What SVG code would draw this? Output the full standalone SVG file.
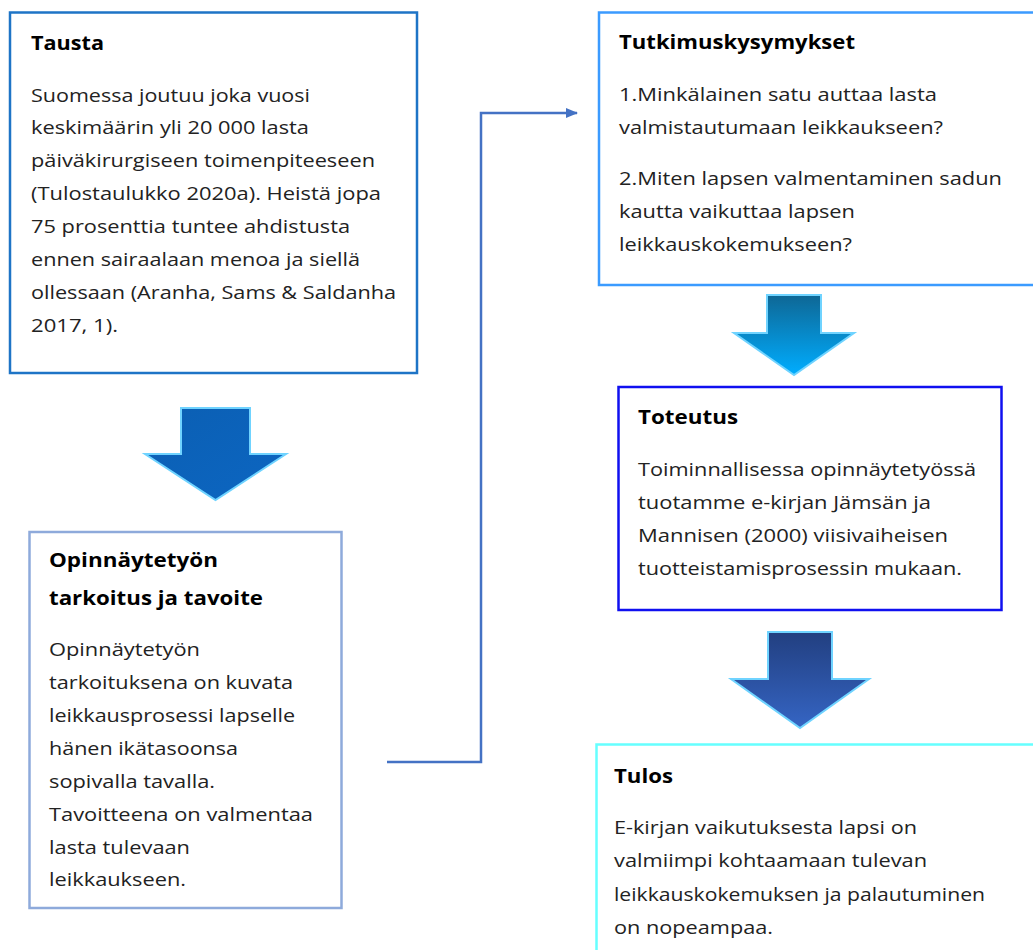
<svg xmlns="http://www.w3.org/2000/svg" width="1033" height="950" viewBox="0 0 1033 950">
<defs>
<style>
text{font-family:"Open Sans","Noto Sans","Liberation Sans",sans-serif;font-size:19px;fill:#222;}
.t{font-weight:bold;fill:#000;font-size:19.5px;}
.box{fill:#fff;stroke-width:2.5;}
.arr{stroke:#6fd3ff;stroke-width:2;stroke-linejoin:miter;}
</style>
<linearGradient id="g1" x1="0" y1="0" x2="1" y2="1">
<stop offset="0" stop-color="#0b5fb3"/><stop offset="1" stop-color="#0c66c2"/>
</linearGradient>
<linearGradient id="g2" x1="0" y1="0" x2="0" y2="1">
<stop offset="0" stop-color="#0e6795"/><stop offset="1" stop-color="#00adff"/>
</linearGradient>
<linearGradient id="g3" x1="0" y1="0" x2="0" y2="1">
<stop offset="0" stop-color="#223f80"/><stop offset="1" stop-color="#3565c4"/>
</linearGradient>
<marker id="ah" markerWidth="12" markerHeight="10" refX="11" refY="5" orient="auto" markerUnits="userSpaceOnUse">
<path d="M0,0 L12,5 L0,10 z" fill="#4472c4"/>
</marker>
</defs>
<rect width="1033" height="950" fill="#fff"/>
<g id="connectors">
<polyline points="387,762 481,762 481,113 577,113" fill="none" stroke="#4472c4" stroke-width="2.5" marker-end="url(#ah)"/>
<polygon class="arr" fill="url(#g1)" points="181,408 250,408 250,454 286,454 215.5,500 145,454 181,454"/>
<polygon class="arr" fill="url(#g2)" points="767,295 821,295 821,333 854,333 794,375 734,333 767,333"/>
<polygon class="arr" fill="url(#g3)" points="768,632 832,632 832,679 869,679 800,728 731,679 768,679"/>
</g>
<g id="tausta">
<rect class="box" x="10" y="12.5" width="407" height="360.5" stroke="#1e74c6"/>
<text class="t" x="31" y="50" textLength="73" lengthAdjust="spacingAndGlyphs">Tausta</text>
<text x="31" y="102" textLength="279" lengthAdjust="spacingAndGlyphs">Suomessa joutuu joka vuosi</text>
<text x="31" y="134" textLength="278" lengthAdjust="spacingAndGlyphs">keskimäärin yli 20 000 lasta</text>
<text x="31" y="167" textLength="344" lengthAdjust="spacingAndGlyphs">päiväkirurgiseen toimenpiteeseen</text>
<text x="31" y="200" textLength="350" lengthAdjust="spacingAndGlyphs">(Tulostaulukko 2020a). Heistä jopa</text>
<text x="31" y="233" textLength="319" lengthAdjust="spacingAndGlyphs">75 prosenttia tuntee ahdistusta</text>
<text x="31" y="266" textLength="329" lengthAdjust="spacingAndGlyphs">ennen sairaalaan menoa ja siellä</text>
<text x="31" y="299" textLength="365" lengthAdjust="spacingAndGlyphs">ollessaan (Aranha, Sams &amp; Saldanha</text>
<text x="31" y="332" textLength="87" lengthAdjust="spacingAndGlyphs">2017, 1).</text>
</g>
<g id="tarkoitus">
<rect class="box" x="29.5" y="532" width="312" height="376" stroke="#8eaadb"/>
<text class="t" x="49" y="567" textLength="169" lengthAdjust="spacingAndGlyphs">Opinnäytetyön</text>
<text class="t" x="49" y="605" textLength="214" lengthAdjust="spacingAndGlyphs">tarkoitus ja tavoite</text>
<text x="49" y="656" textLength="151" lengthAdjust="spacingAndGlyphs">Opinnäytetyön</text>
<text x="49" y="689" textLength="244" lengthAdjust="spacingAndGlyphs">tarkoituksena on kuvata</text>
<text x="49" y="722" textLength="246" lengthAdjust="spacingAndGlyphs">leikkausprosessi lapselle</text>
<text x="49" y="755" textLength="189" lengthAdjust="spacingAndGlyphs">hänen ikätasoonsa</text>
<text x="49" y="788" textLength="166" lengthAdjust="spacingAndGlyphs">sopivalla tavalla.</text>
<text x="49" y="821" textLength="264" lengthAdjust="spacingAndGlyphs">Tavoitteena on valmentaa</text>
<text x="49" y="854" textLength="141" lengthAdjust="spacingAndGlyphs">lasta tulevaan</text>
<text x="49" y="886" textLength="137" lengthAdjust="spacingAndGlyphs">leikkaukseen.</text>
</g>
<g id="tutkimuskysymykset">
<rect class="box" x="599" y="12.5" width="450" height="272.5" stroke="#3b9bff"/>
<text class="t" x="619" y="49" textLength="236" lengthAdjust="spacingAndGlyphs">Tutkimuskysymykset</text>
<text x="619" y="101" textLength="318" lengthAdjust="spacingAndGlyphs">1.Minkälainen satu auttaa lasta</text>
<text x="619" y="134" textLength="324" lengthAdjust="spacingAndGlyphs">valmistautumaan leikkaukseen?</text>
<text x="619" y="185" textLength="383" lengthAdjust="spacingAndGlyphs">2.Miten lapsen valmentaminen sadun</text>
<text x="619" y="218" textLength="236" lengthAdjust="spacingAndGlyphs">kautta vaikuttaa lapsen</text>
<text x="619" y="251" textLength="233" lengthAdjust="spacingAndGlyphs">leikkauskokemukseen?</text>
</g>
<g id="toteutus">
<rect class="box" x="618.5" y="387" width="383" height="223" stroke="#1010f0"/>
<text class="t" x="638" y="424" textLength="100" lengthAdjust="spacingAndGlyphs">Toteutus</text>
<text x="638" y="476" textLength="338" lengthAdjust="spacingAndGlyphs">Toiminnallisessa opinnäytetyössä</text>
<text x="638" y="509" textLength="293" lengthAdjust="spacingAndGlyphs">tuotamme e-kirjan Jämsän ja</text>
<text x="638" y="542" textLength="310" lengthAdjust="spacingAndGlyphs">Mannisen (2000) viisivaiheisen</text>
<text x="638" y="575" textLength="324" lengthAdjust="spacingAndGlyphs">tuotteistamisprosessin mukaan.</text>
</g>
<g id="tulos">
<rect class="box" x="596.5" y="744.5" width="460" height="230" stroke="#66ffff"/>
<text class="t" x="614" y="783" textLength="59" lengthAdjust="spacingAndGlyphs">Tulos</text>
<text x="614" y="834" textLength="303" lengthAdjust="spacingAndGlyphs">E-kirjan vaikutuksesta lapsi on</text>
<text x="614" y="867" textLength="313" lengthAdjust="spacingAndGlyphs">valmiimpi kohtaamaan tulevan</text>
<text x="614" y="901" textLength="371" lengthAdjust="spacingAndGlyphs">leikkauskokemuksen ja palautuminen</text>
<text x="614" y="934" textLength="159" lengthAdjust="spacingAndGlyphs">on nopeampaa.</text>
</g>
</svg>
